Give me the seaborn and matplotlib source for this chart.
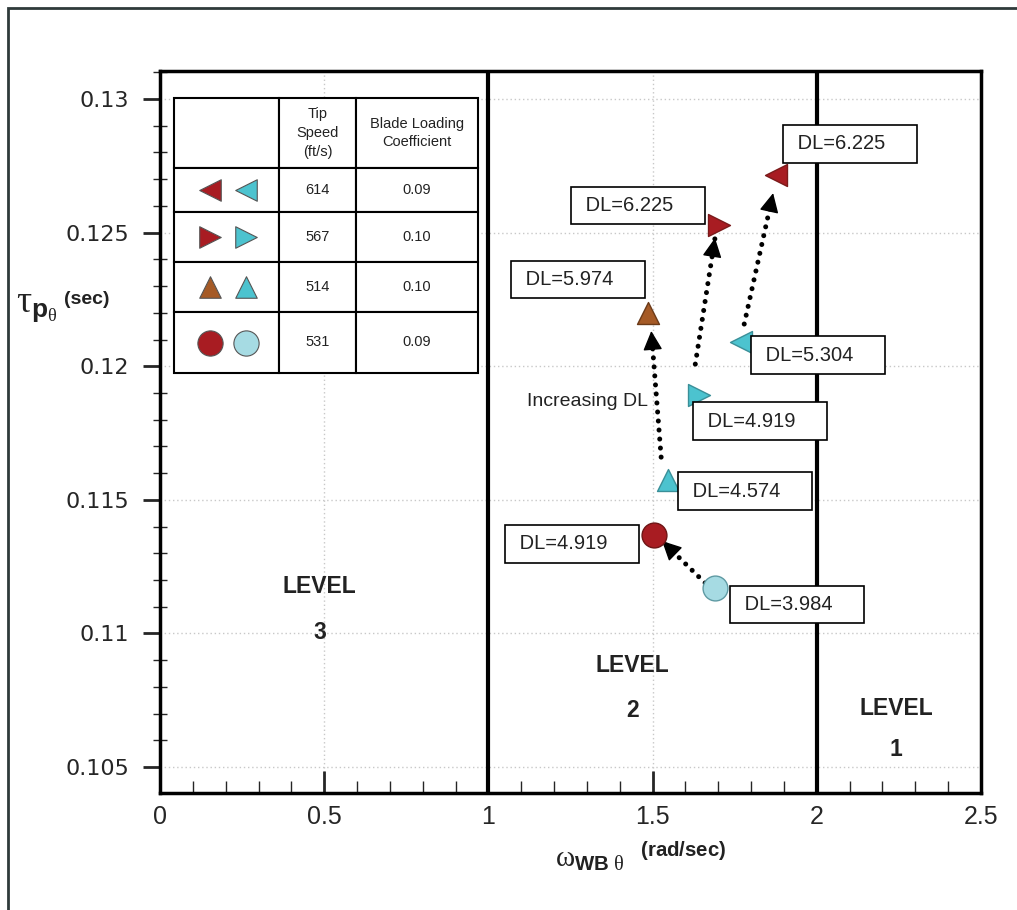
import numpy as np
import pandas as pd
import matplotlib
matplotlib.use("Agg")
import matplotlib.pyplot as plt
import seaborn as sns
from matplotlib.patches import Rectangle
from matplotlib.ticker import MultipleLocator

# ---------------- data ----------------
series_names = ["614 dark", "614 light", "567 dark", "567 light",
                "514 dark", "514 light", "531 dark", "531 light"]
omega = [1.876, 1.770, 1.703, 1.642, 1.487, 1.548, 1.505, 1.690]
tau = [0.12716, 0.12091, 0.12528, 0.11892, 0.12199, 0.11574, 0.11368, 0.11170]
markers = ["<", "<", ">", ">", "^", "^", "o", "o"]
face_colors = ["#a81c22", "#4cc3cf", "#a81c22", "#4cc3cf",
               "#a55a26", "#4cc3cf", "#a81c22", "#a6dbe3"]
edge_colors = ["#7a1a1a", "#3a8f98", "#7a1a1a", "#3a8f98",
               "#6b3a18", "#3a8f98", "#6e1515", "#5f9aa3"]
sizes = [250, 250, 250, 250, 250, 250, 320, 320]

dl_labels = ["DL=6.225", "DL=6.225", "DL=5.974", "DL=5.304",
             "DL=4.919", "DL=4.574", "DL=4.919", "DL=3.984"]
dl_x = [1.925, 1.280, 1.097, 1.828, 1.651, 1.605, 1.079, 1.764]
dl_y = [0.12832, 0.12603, 0.12326, 0.12042, 0.11795, 0.11533, 0.11335, 0.11110]

arrow_start_x = [1.660, 1.526, 1.630, 1.779]
arrow_start_y = [0.11189, 0.11660, 0.12008, 0.12158]
arrow_end_x = [1.529, 1.496, 1.690, 1.867]
arrow_end_y = [0.11346, 0.12132, 0.12480, 0.12648]

level_names = ["LEVEL", "LEVEL", "LEVEL"]
level_nums = ["3", "2", "1"]
level_x = [0.486, 1.438, 2.241]
level_word_y = [0.11177, 0.10882, 0.10721]
level_num_y = [0.11005, 0.10710, 0.10565]

table_tip = ["614", "567", "514", "531"]
table_coef = ["0.09", "0.10", "0.10", "0.09"]
table_markers = ["<", ">", "^", "o"]
table_dark = ["#a81c22", "#a81c22", "#a55a26", "#a81c22"]
table_light = ["#4cc3cf", "#4cc3cf", "#4cc3cf", "#a6dbe3"]

x_ticks = [0, 0.5, 1, 1.5, 2, 2.5]
x_tick_labels = ["0", "0.5", "1", "1.5", "2", "2.5"]
y_ticks = [0.105, 0.11, 0.115, 0.12, 0.125, 0.13]
y_tick_labels = ["0.105", "0.11", "0.115", "0.12", "0.125", "0.13"]

df = pd.DataFrame({"omega": omega, "tau": tau, "series": series_names})

# ---------------- style ----------------
sns.set_theme(style="white")
plt.rcParams["font.family"] = ["Liberation Sans", "DejaVu Sans"]
plt.rcParams["mathtext.fontset"] = "custom"
plt.rcParams["mathtext.rm"] = "Liberation Sans"
plt.rcParams["mathtext.bf"] = "Liberation Sans:bold"
plt.rcParams["mathtext.it"] = "Liberation Serif"

fig = plt.figure(figsize=(10.17, 9.10), dpi=100)
ax = fig.add_axes([160 / 1017, 117 / 910, 821 / 1017, 722 / 910])

# outer frame of figure
fig.patches.append(Rectangle((8 / 1017, -0.1), 1.2, 1 - 8 / 910 + 0.1,
                             transform=fig.transFigure, fill=False,
                             edgecolor="#2f3a3a", lw=2, zorder=0))

ax.set_xlim(0, 2.5)
ax.set_ylim(0.10403, 0.13105)

# grid (dotted)
for xv in [0.5, 1.5]:
    ax.axvline(xv, color="#c8c8c8", ls=(0, (1, 2)), lw=1, zorder=0)
for yv in y_ticks:
    ax.axhline(yv, color="#c8c8c8", ls=(0, (1, 2)), lw=1, zorder=0)

# level boundaries
for xv in [1, 2]:
    ax.axvline(xv, color="black", lw=3, zorder=1)

# points
for i, row in df.iterrows():
    sns.scatterplot(x=[row["omega"]], y=[row["tau"]], ax=ax, marker=markers[i],
                    s=sizes[i], color=face_colors[i], edgecolor=edge_colors[i],
                    linewidth=1, zorder=5, legend=False)

# arrows (dotted)
for sx, sy, ex, ey in zip(arrow_start_x, arrow_start_y, arrow_end_x, arrow_end_y):
    ax.plot([sx, ex], [sy, ey], color="black", lw=3.6, ls=(0, (0.01, 1.8)),
            dash_capstyle="round", zorder=4)
    fx = sx + (ex - sx) * 0.9
    fy = sy + (ey - sy) * 0.9
    ax.annotate("", xy=(ex, ey), xytext=(fx, fy),
                arrowprops=dict(arrowstyle="-|>,head_length=1.0,head_width=0.5",
                                color="black", lw=1, shrinkA=0, shrinkB=0),
                zorder=4)

# DL labels
for lab, lx, ly in zip(dl_labels, dl_x, dl_y):
    ax.text(lx, ly, " " + lab + "    ", ha="left", va="center", fontsize=14.5,
            color="#222222", zorder=6,
            bbox=dict(boxstyle="square,pad=0.45", fc="white", ec="black", lw=1.2))

ax.text(1.118, 0.11870, "Increasing DL", ha="left", va="center",
        fontsize=14, color="#222222", zorder=6)

for name, num, lx, wy, ny in zip(level_names, level_nums, level_x,
                                 level_word_y, level_num_y):
    ax.text(lx, wy, name, ha="center", va="center", fontsize=16.5,
            fontweight="bold", color="#222222")
    ax.text(lx, ny, num, ha="center", va="center", fontsize=16.5,
            fontweight="bold", color="#222222")

# ticks
ax.set_xticks(x_ticks)
ax.set_xticklabels(x_tick_labels)
ax.set_yticks(y_ticks)
ax.set_yticklabels(y_tick_labels)
ax.xaxis.set_minor_locator(MultipleLocator(0.1))
ax.yaxis.set_minor_locator(MultipleLocator(0.001))
ax.tick_params(axis="x", which="major", direction="in", length=16, width=2,
               labelsize=18, pad=9, bottom=True)
ax.tick_params(axis="x", which="minor", direction="in", length=9, width=1,
               bottom=True)
ax.tick_params(axis="y", which="major", direction="out", length=12, width=2,
               labelsize=16, pad=10, left=True)
ax.tick_params(axis="y", which="minor", direction="inout", length=10, width=1,
               left=True)
for lab in ax.get_yticklabels():
    lab.set_family(["DejaVu Sans"])

for sp in ax.spines.values():
    sp.set_color("black")
    sp.set_linewidth(2.5)

# axis labels
ax.set_xlabel(r"$\omega_{\mathbf{WB}\ \theta}$  $^{\mathbf{(rad/sec)}}$", fontsize=21,
              color="#222222")
ax.xaxis.set_label_coords(0.585, -0.065)
ax.set_ylabel(r"$\tau_{\mathbf{p}_{\theta}}$", fontsize=27,
              rotation=0, color="#222222", ha="left", va="center")
ax.yaxis.set_label_coords(-0.175, 0.675)
fig.text(64 / 1017, 1 - 300 / 910, "(sec)", fontsize=14, fontweight="bold",
         color="#222222", ha="left", va="center")

# ---------------- table ----------------
cell_text = [["", "Tip\nSpeed\n(ft/s)", "Blade Loading\nCoefficient"]]
for t, c in zip(table_tip, table_coef):
    cell_text.append(["", t, c])
col_w = [105, 77, 122]
row_h = [70, 44, 50, 50, 61]
tx0, ty1 = (174 - 160) / 821, (793 - 98) / 722
tw = sum(col_w) / 821
th = sum(row_h) / 722
tbl = ax.table(cellText=cell_text, colWidths=[w / sum(col_w) for w in col_w],
               cellLoc="center", bbox=[tx0, ty1 - th, tw, th], zorder=3)
tbl.auto_set_font_size(False)
for (r, c), cell in tbl.get_celld().items():
    cell.set_height(row_h[r] / sum(row_h))
    cell.set_edgecolor("black")
    cell.set_linewidth(1.5)
    cell.set_facecolor("white")
    cell.get_text().set_fontsize(10.5)
    cell.get_text().set_color("#222222")
    cell.get_text().set_linespacing(1.45)

# markers in table
y_cursor = 98 + row_h[0]
for i in range(4):
    yc = y_cursor + row_h[i + 1] / 2
    y_ax = (793 - yc) / 722
    for xp, col in zip([210, 246], [table_dark[i], table_light[i]]):
        x_ax = (xp - 160) / 821
        s = 330 if table_markers[i] == "o" else 240
        ax.scatter([x_ax], [y_ax], transform=ax.transAxes, marker=table_markers[i],
                   s=s, color=col, edgecolor="#555555", linewidth=0.8, zorder=6,
                   clip_on=False)
    y_cursor += row_h[i + 1]

fig.savefig("out.png", dpi=100)
